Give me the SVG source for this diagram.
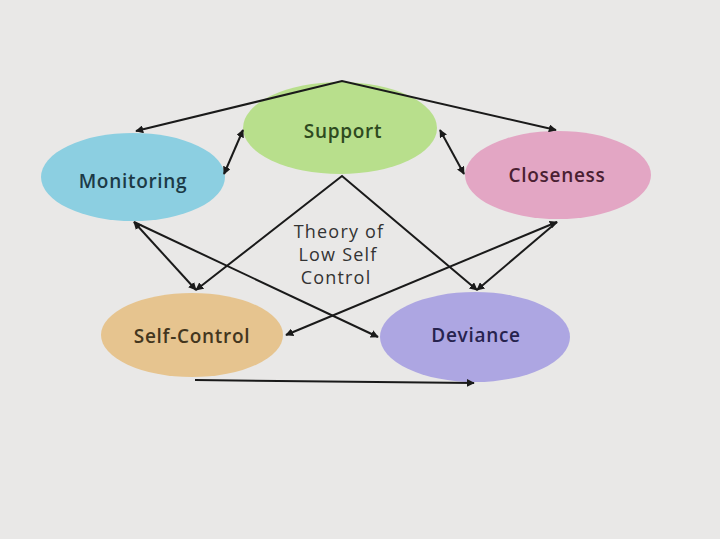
<svg xmlns="http://www.w3.org/2000/svg" width="720" height="539" viewBox="0 0 720 539">
<defs>
<marker id="ah" viewBox="0 0 10 10" refX="9" refY="5" markerWidth="4" markerHeight="4" orient="auto-start-reverse" markerUnits="strokeWidth">
<path d="M0,0 L10,5 L0,10 z" fill="#1a1a1a"/>
</marker>
<style>
.lbl{font-family:"Open Sans","Liberation Sans",sans-serif;font-size:19px;font-weight:600;letter-spacing:0.7px;text-anchor:middle;dominant-baseline:central}
.th{font-size:18px;font-weight:500;letter-spacing:1.2px}
.c{stroke:#1a1a1a;stroke-width:2;fill:none}
</style>
</defs>
<rect width="720" height="539" fill="#e9e8e7"/>
<g id="support"><ellipse cx="340" cy="128" rx="97" ry="46" fill="#b8df8c"/><text class="lbl" x="343" y="131" fill="#2e4a20">Support</text></g>
<g id="monitoring"><ellipse cx="133" cy="177" rx="92" ry="44" fill="#8ccfe1"/><text class="lbl" x="133" y="181" fill="#1c3a46">Monitoring</text></g>
<g id="closeness"><ellipse cx="558" cy="175" rx="93" ry="44" fill="#e3a6c4"/><text class="lbl" x="557" y="175" fill="#4a1f32">Closeness</text></g>
<g id="selfcontrol"><ellipse cx="192" cy="335" rx="91" ry="42" fill="#e6c48f"/><text class="lbl" x="192" y="336" fill="#43361e">Self-Control</text></g>
<g id="deviance"><ellipse cx="475" cy="337" rx="95" ry="45" fill="#ada6e2"/><text class="lbl" x="476" y="335" fill="#27234e">Deviance</text></g>
<g id="theory">
<text class="lbl th" x="339" y="231" fill="#333">Theory of</text>
<text class="lbl th" x="338" y="254" fill="#333">Low Self</text>
<text class="lbl th" x="336" y="277" fill="#333">Control</text>
</g>
<g id="connectors">
<path class="c" d="M136,131 L342,81 L556,130" marker-start="url(#ah)" marker-end="url(#ah)"/>
<line class="c" x1="243" y1="130" x2="224" y2="174" marker-start="url(#ah)" marker-end="url(#ah)"/>
<line class="c" x1="440" y1="130" x2="464" y2="174" marker-start="url(#ah)" marker-end="url(#ah)"/>
<path class="c" d="M196,290 L342,176 L477,290" marker-start="url(#ah)" marker-end="url(#ah)"/>
<line class="c" x1="134" y1="222" x2="196" y2="290" marker-start="url(#ah)" marker-end="url(#ah)"/>
<line class="c" x1="134" y1="222" x2="378" y2="337" marker-end="url(#ah)"/>
<line class="c" x1="557" y1="222" x2="286" y2="335" marker-start="url(#ah)" marker-end="url(#ah)"/>
<line class="c" x1="557" y1="222" x2="477" y2="290" marker-end="url(#ah)"/>
<line class="c" x1="195" y1="380" x2="474" y2="383" marker-end="url(#ah)"/>
</g>
</svg>
